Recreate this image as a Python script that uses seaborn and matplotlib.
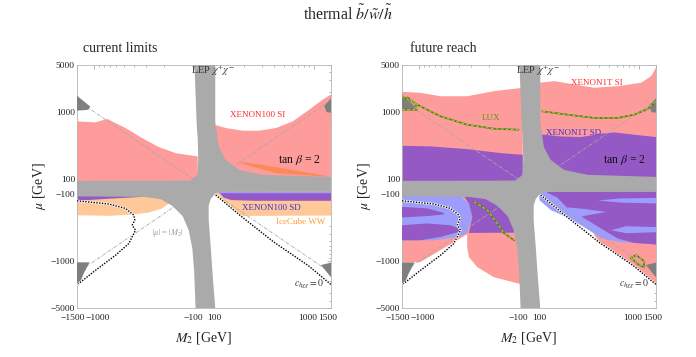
import numpy as np
import matplotlib
matplotlib.use("Agg")
import matplotlib.pyplot as plt
import matplotlib.transforms as mtrans
import seaborn as sns

# ---------------- values (GeV) ----------------
x_ticks = [-1500, -1000, -100, 100, 1000, 1500]
y_ticks = [-5000, -1000, -100, 100, 1000, 5000]
x_minor = list(range(-900, -100, 100)) + [0] + list(range(200, 1000, 100))
y_minor = ([-4000, -3000, -2000] + list(range(-900, -100, 100)) +
           list(range(200, 1000, 100)) + [2000, 3000, 4000])

# LEP chargino exclusion (grey cross), same in both panels
lep_m2 = [-89, 102, 102, 111, 130, 178, 307, 1500, 1500, 148, 114, 103, 65, 45,
          45, 65, 87, 102, -81, -95, -103, -112, -129, -163, -215, -320, -1500,
          -1500, -199, -107, -63, -55, -60, -70, -89]
lep_mu = [5000, 5000, 700, 300, 195, 138, 117, 109, -74, -76, -80, -92, -120, -150,
          -250, -630, -1950, -5000, -5000, -1384, -650, -350, -216, -153, -121, -112, -110,
          80, 82, 85, 117, 195, 400, 650, 4000]

# dark grey corner wedges
tri_ul_m2, tri_ul_mu = [-1500, -1099, -1159, -1500], [1750, 1200, 1080, 1050]
tri_ur_m2, tri_ur_mu = [1500, 1284, 1349, 1500], [1600, 1230, 1000, 980]
tri_ll_m2, tri_ll_mu = [-1500, -1121, -1288, -1412, -1500], [-1050, -1050, -1552, -2188, -2250]
tri_lr_m2, tri_lr_mu = [1189, 1500, 1500], [-1150, -1060, -1750]

# |mu| = |M2| reference
diag = [100, 200, 500, 1000, 1500]

# c_hXX = 0 blind spot lines
bs_r_m2 = [103, 185, 400, 881, 1500]
bs_r_mu = [-105, -216, -529, -1166, -2240]
bs_l_m2 = [-1500, -717, -486, -401, -392, -416, -385, -451, -614, -979, -1453]
bs_l_mu = [-128, -143, -166, -209, -248, -295, -350, -553, -826, -1384, -2188]

# ---- current limits ----
si100_l_m2 = [-1500, -979, -745, -486, -330, -224, -152, -60]
si100_l_top = [728, 703, 791, 580, 411, 302, 246, 219]
si100_r_m2 = [100, 130, 192, 283, 418, 617, 908, 1241, 1500]
si100_r_top = [650, 580, 529, 529, 580, 728, 1089, 1535, 1823]
ice_up_m2 = [178, 307, 617, 1342, 1342, 418, 199]
ice_up_mu = [184, 164, 138, 113, 110, 124, 168]
ice_l_m2 = [-1500, -124, -138, -164, -207, -283, -416, -717, -1500]
ice_l_mu = [-100, -100, -110, -129, -166, -191, -205, -214, -210]
ice_r_m2 = [100, 1500, 1500, 216, 185, 148, 114, 103]
ice_r_mu = [-70, -70, -212, -215, -216, -160, -120, -105]
sd100_l_m2 = [-1500, -256, -330, -764, -1500]
sd100_l_mu = [-100, -100, -112, -120, -128]
sd100_rb_m2 = [105, 1500, 1500, 470, 199, 124]
sd100_rb_mu = [-70, -70, -105, -105, -115, -110]
sd100_rp_m2 = [114, 1500, 1500, 256, 148, 124]
sd100_rp_mu = [-95, -95, -128, -128, -125, -115]

# ---- future reach ----
si1t_l_m2 = [-1500, -979, -614, -330, -178, -60]
si1t_l_top = [2000, 1932, 1718, 1718, 2042, 2296]
si1t_r_m2 = [100, 141, 224, 357, 617, 1062, 1342, 1500]
si1t_r_top = [2725, 2880, 2570, 2296, 2425, 2725, 3420, 4560]
si1t_ll_m2 = [-1500, -85, -85, -178, -261, -317, -330, -330, -979, -1500]
si1t_ll_mu = [-100, -100, -2200, -1742, -1236, -877, -621, -402, -1040, -1040]
si1t_lr_m2 = [355, 1500, 1500, 881, 400]
si1t_lr_mu = [-400, -400, -2240, -1166, -529]

sd1t_l_m2 = [-1500, -764, -330, -152, -60]
sd1t_l_top = [316, 309, 282, 246, 232]
sd1t_r_m2 = [100, 111, 164, 263, 418, 570, 908, 1500]
sd1t_r_top = [461, 461, 435, 426, 477, 499, 461, 426]
sd1t_llb_m2 = [-1500, -362, -371, -317, -293, -330, -401, -717, -1500]
sd1t_llb_mu = [-100, -100, -115, -140, -222, -384, -441, -494, -494]
sd1t_llp_m2 = [-371, -90, -90, -317, -293, -317]
sd1t_llp_mu = [-100, -100, -380, -384, -222, -140]
sd1t_p1_m2 = [-1500, -838, -569, -569, -838, -1500]
sd1t_p1_mu = [-157, -166, -193, -204, -216, -226]
sd1t_p2_m2 = [-1500, -838, -486, -401, -401, -614, -979, -1500]
sd1t_p2_mu = [-295, -278, -295, -330, -371, -441, -494, -494]
sd1t_lrb_m2 = [100, 1500, 1500, 617, 418, 307, 208, 130, 100]
sd1t_lrb_mu = [-70, -70, -570, -520, -460, -340, -240, -175, -125]
sd1t_lrp_m2 = [120, 1500, 1500, 908, 617, 418, 307, 192, 152, 120]
sd1t_lrp_mu = [-70, -70, -570, -540, -466, -330, -250, -165, -115, -88]
sd1t_s1_m2, sd1t_s1_mu = [391, 656, 1500, 1500, 656], [-127, -118, -116, -140, -136]
sd1t_s2_m2, sd1t_s2_mu = [190, 294, 470, 294, 215], [-160, -170, -188, -212, -240]
sd1t_s3_m2, sd1t_s3_mu = [527, 750, 1500, 1500, 750], [-350, -305, -315, -375, -388]

lux_a_m2 = [-1500, -979, -614, -330, -178, -100]
lux_a_mu = [1718, 1219, 865, 650, 566, 547]
lux_b_m2 = [107, 192, 357, 617, 908, 1241, 1500]
lux_b_mu = [1026, 916, 818, 818, 916, 1115, 1448]
lux_c_m2 = [-1500, -1070, -1084, -1317]
lux_c_mu = [1100, 1080, 1300, 1650]
lux_d_m2 = [-283, -207, -164, -141, -111]
lux_d_mu = [-132, -176, -278, -384, -494]
lux_e_m2 = [834, 947, 1129, 1143, 1014, 834]
lux_e_mu = [-900, -820, -1000, -1250, -1150, -900]

RED = "#fe9b9b"
GREY = "#aaaaaa"
DARK = "#7f7f7f"
PURPLE = "#9559c6"
BLUE = "#9d9dfd"
ORANGE = "#ffc898"
ORANGE_RED = "#fc8a57"


def symlog(v):
    """sign * log10|v| with a short linear piece for |v| < 100"""
    v = np.asarray(v, float)
    a = np.abs(v)
    return np.where(a >= 100, np.sign(v) * (np.log10(np.maximum(a, 100)) - 1.895), v * 0.00105)


def symlog_inv(s):
    s = np.asarray(s, float)
    a = np.minimum(np.abs(s), 20)
    return np.where(a >= 0.105, np.sign(s) * 10 ** (a + 1.895), s / 0.00105)


def poly(ax, m2, mu, color, z):
    ax.fill(m2, mu, color=color, lw=0, zorder=z)


def band(ax, m2, top, color, z, floor=50):
    poly(ax, list(m2) + [m2[-1], m2[0]], list(top) + [floor, floor], color, z)


def line(ax, m2, mu, color, lw, ls, z):
    sns.lineplot(x=m2, y=mu, ax=ax, sort=False, estimator=None, color=color,
                 lw=lw, linestyle=ls, zorder=z, legend=False)


def fmt(v):
    return ("\u2212" + str(-v)) if v < 0 else str(v)


def setup(ax):
    ax.set_xscale("function", functions=(symlog, symlog_inv))
    ax.set_yscale("function", functions=(symlog, symlog_inv))
    ax.set_xlim(-1500, 1500)
    ax.set_ylim(-5000, 5000)
    ax.set_xticks(x_ticks)
    ax.set_xticklabels([fmt(v) for v in x_ticks])
    ax.set_yticks(y_ticks)
    ax.set_yticklabels([fmt(v) for v in y_ticks])
    ax.set_xticks(x_minor, minor=True)
    ax.set_yticks(y_minor, minor=True)
    ax.tick_params(which="both", direction="in", top=True, right=True,
                   color="#9a9a9a", width=0.5, labelsize=6.8, labelcolor="#222222")
    ax.tick_params(which="major", length=3)
    ax.tick_params(which="minor", length=1.6)
    ax.tick_params(axis="x", pad=4)
    ax.tick_params(axis="y", pad=1.5)
    # nudge the crowded x labels apart a little
    fig = ax.figure
    shifts = [-4, 3, 0, 0, -6, -3]
    for lab, dx in zip(ax.get_xticklabels(), shifts):
        lab.set_transform(lab.get_transform() + mtrans.ScaledTranslation(dx / 100, 0, fig.dpi_scale_trans))
    for s in ax.spines.values():
        s.set_color("#b5b5b5")
        s.set_linewidth(0.6)
    ax.set_facecolor("white")
    ax.set_xlabel(r"$M_2$ [GeV]", fontsize=10, labelpad=6)
    ax.set_ylabel(r"$\mu$ [GeV]", fontsize=10, labelpad=2)

    # shared overlays
    for sx, sy in [(1, 1), (-1, 1), (-1, -1), (1, -1)]:
        line(ax, [sx * d for d in diag], [sy * d for d in diag], "#a8a8a8", 0.6,
             (0, (4, 1.5, 1, 1.5)), 4)
    poly(ax, lep_m2, lep_mu, GREY, 5)
    for m2, mu in [(tri_ul_m2, tri_ul_mu), (tri_ur_m2, tri_ur_mu),
                   (tri_ll_m2, tri_ll_mu), (tri_lr_m2, tri_lr_mu)]:
        poly(ax, m2, mu, DARK, 6)
    for m2, mu in [(bs_r_m2, bs_r_mu), (bs_l_m2, bs_l_mu)]:
        line(ax, m2, mu, "white", 1.6, "-", 7)
        line(ax, m2, mu, "black", 1.0, (0, (1, 1)), 8)

    kw = dict(transform=ax.transAxes, ha="center", va="center", zorder=10)
    ax.text(0.535, 0.976, r"LEP $\chi^{+}\chi^{-}$", fontsize=7.5, color="#333333", **kw)
    ax.text(0.875, 0.609, r"tan $\beta$ = 2", fontsize=8.5, color="#111111", **kw)
    ax.text(0.915, 0.098, r"$c_{h\chi\chi}=0$", fontsize=7, color="#333333", **kw)


sns.set_theme(style="white")
plt.rcParams["font.family"] = ["Liberation Serif", "DejaVu Serif"]
plt.rcParams["mathtext.fontset"] = "stix"

fig = plt.figure(figsize=(6.96, 3.57), dpi=100)
fig.patch.set_facecolor("white")
ax1 = fig.add_axes([77 / 696, 49 / 357, 254 / 696, 243 / 357])
ax2 = fig.add_axes([402 / 696, 49 / 357, 254 / 696, 243 / 357])

# ---- left: current limits ----
band(ax1, si100_l_m2, si100_l_top, RED, 1)
band(ax1, si100_r_m2, si100_r_top, RED, 1)
poly(ax1, ice_up_m2, ice_up_mu, ORANGE_RED, 2)
poly(ax1, ice_l_m2, ice_l_mu, ORANGE, 1)
poly(ax1, ice_r_m2, ice_r_mu, ORANGE, 1)
poly(ax1, sd100_l_m2, sd100_l_mu, PURPLE, 2)
poly(ax1, sd100_rb_m2, sd100_rb_mu, BLUE, 2)
poly(ax1, sd100_rp_m2, sd100_rp_mu, PURPLE, 3)
setup(ax1)
kw = dict(transform=ax1.transAxes, ha="center", va="center", zorder=10)
ax1.text(0.713, 0.794, "XENON100 SI", fontsize=6.5, color="#ff2b2b", **kw)
ax1.text(0.767, 0.412, "XENON100 SD", fontsize=6.5, color="#3a2fd2", **kw)
ax1.text(0.881, 0.354, "IceCube WW", fontsize=6.5, color="#ff9a30", **kw)
ax1.text(0.358, 0.309, r"$|\mu|$ = $|M_2|$", fontsize=6, color="#999999", **kw)

# ---- right: future reach ----
band(ax2, si1t_l_m2, si1t_l_top, RED, 1)
band(ax2, si1t_r_m2, si1t_r_top, RED, 1)
poly(ax2, si1t_ll_m2, si1t_ll_mu, RED, 1)
poly(ax2, si1t_lr_m2, si1t_lr_mu, RED, 1)
band(ax2, sd1t_l_m2, sd1t_l_top, PURPLE, 2)
band(ax2, sd1t_r_m2, sd1t_r_top, PURPLE, 2)
poly(ax2, sd1t_llb_m2, sd1t_llb_mu, BLUE, 2)
poly(ax2, sd1t_llp_m2, sd1t_llp_mu, PURPLE, 3)
poly(ax2, sd1t_p1_m2, sd1t_p1_mu, PURPLE, 3)
poly(ax2, sd1t_p2_m2, sd1t_p2_mu, PURPLE, 3)
poly(ax2, sd1t_lrb_m2, sd1t_lrb_mu, BLUE, 2)
poly(ax2, sd1t_lrp_m2, sd1t_lrp_mu, PURPLE, 3)
for m2, mu in [(sd1t_s1_m2, sd1t_s1_mu), (sd1t_s2_m2, sd1t_s2_mu), (sd1t_s3_m2, sd1t_s3_mu)]:
    poly(ax2, m2, mu, BLUE, 3.5)
setup(ax2)
for m2, mu in [(lux_a_m2, lux_a_mu), (lux_b_m2, lux_b_mu), (lux_c_m2, lux_c_mu),
               (lux_d_m2, lux_d_mu), (lux_e_m2, lux_e_mu)]:
    line(ax2, m2, mu, "#4f6e1c", 1.2, "-", 8)
    line(ax2, m2, mu, "#a6d22e", 0.8, (0, (3, 1.5)), 9)
kw = dict(transform=ax2.transAxes, ha="center", va="center", zorder=10)
ax2.text(0.766, 0.926, "XENON1T SI", fontsize=6.5, color="#ff2b2b", **kw)
ax2.text(0.676, 0.72, "XENON1T SD", fontsize=6.5, color="#3a2fd2", **kw)
ax2.text(0.35, 0.782, "LUX", fontsize=6.5, color="#5a9a10", **kw)

# titles
fig.text(0.5, 0.96, r"thermal $\tilde{b}/\tilde{w}/\tilde{h}$", fontsize=11.5,
         ha="center", va="center")
fig.text(83 / 696, 1 - 48 / 357, "current limits", fontsize=10, ha="left", va="center")
fig.text(410 / 696, 1 - 48 / 357, "future reach", fontsize=10, ha="left", va="center")

fig.savefig("out.png", dpi=100, facecolor="white")
